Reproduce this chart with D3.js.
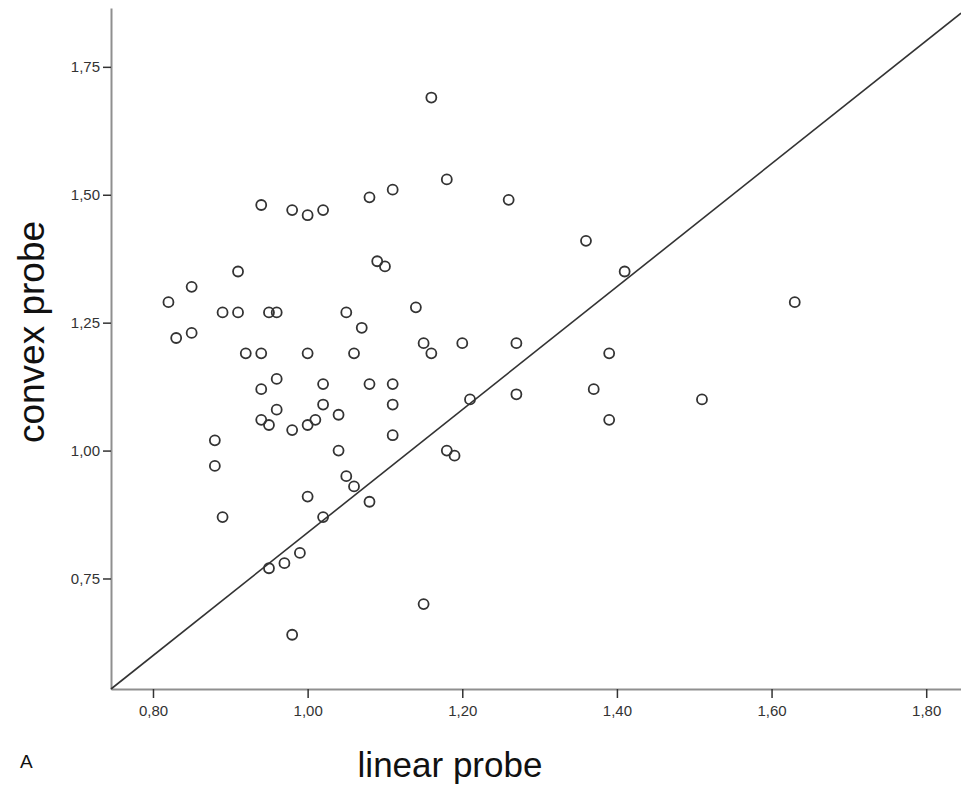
<!DOCTYPE html>
<html>
<head>
<meta charset="utf-8">
<script src="https://cdn.jsdelivr.net/npm/d3@7"></script>
<style>
  body { margin: 0; background: #fff; }
  svg { display: block; font-family: "Liberation Sans", Arial, sans-serif; }
</style>
</head>
<body>
<svg id="chart" width="961" height="790"></svg>
<script>
// values
const linearProbe = [
  0.82, 0.83, 0.85, 0.85, 0.88, 0.88, 0.89, 0.89, 0.91, 0.91,
  0.92, 0.94, 0.94, 0.94, 0.94, 0.95, 0.96, 0.96, 0.96, 0.95,
  0.95, 0.97, 0.98, 0.98, 0.98, 0.99, 1.00, 1.00, 1.00, 1.00,
  1.01, 1.02, 1.02, 1.02, 1.02, 1.04, 1.04, 1.05, 1.05, 1.06,
  1.06, 1.07, 1.08, 1.08, 1.08, 1.09, 1.10, 1.11, 1.11, 1.11,
  1.11, 1.14, 1.15, 1.15, 1.16, 1.16, 1.18, 1.18, 1.19, 1.20,
  1.21, 1.26, 1.27, 1.27, 1.36, 1.37, 1.39, 1.39, 1.41, 1.51,
  1.63
];
const convexProbe = [
  1.29, 1.22, 1.32, 1.23, 1.02, 0.97, 0.87, 1.27, 1.35, 1.27,
  1.19, 1.48, 1.19, 1.12, 1.06, 1.27, 1.27, 1.14, 1.08, 1.05,
  0.77, 0.78, 1.47, 1.04, 0.64, 0.80, 1.46, 1.19, 1.05, 0.91,
  1.06, 1.47, 1.13, 1.09, 0.87, 1.07, 1.00, 1.27, 0.95, 1.19,
  0.93, 1.24, 1.495, 1.13, 0.90, 1.37, 1.36, 1.51, 1.13, 1.09,
  1.03, 1.28, 1.21, 0.70, 1.69, 1.19, 1.53, 1.00, 0.99, 1.21,
  1.10, 1.49, 1.21, 1.11, 1.41, 1.12, 1.19, 1.06, 1.35, 1.10,
  1.29
];
const xTicks = [0.80, 1.00, 1.20, 1.40, 1.60, 1.80];
const yTicks = [0.75, 1.00, 1.25, 1.50, 1.75];
const refLineX = [0.7457, 1.845];
const refLineY = [0.534, 1.855];

const svg = d3.select('#chart');

const x = d3.scaleLinear().domain([0.7457, 1.845]).range([111, 961]);
const y = d3.scaleLinear().domain([0.534, 1.865]).range([689, 8]);

const fmt = d => d3.format('.2f')(d).replace('.', ',');

// x axis
const gx = svg.append('g')
  .attr('transform', 'translate(0,689)')
  .call(d3.axisBottom(x).tickValues(xTicks).tickFormat(fmt).tickSizeInner(9).tickSizeOuter(0).tickPadding(7));
gx.select('.domain').attr('stroke', '#8f8f8f').attr('stroke-width', 2);
gx.selectAll('.tick line').attr('stroke', '#333').attr('stroke-width', 1.5);
gx.selectAll('.tick text').attr('fill', '#333').style('font-size', '15px');

// y axis
const gy = svg.append('g')
  .attr('transform', 'translate(111,0)')
  .call(d3.axisLeft(y).tickValues(yTicks).tickFormat(fmt).tickSizeInner(8).tickSizeOuter(0).tickPadding(3));
gy.select('.domain').attr('stroke', '#8f8f8f').attr('stroke-width', 2);
gy.selectAll('.tick line').attr('stroke', '#333').attr('stroke-width', 1.5);
gy.selectAll('.tick text').attr('fill', '#333').style('font-size', '15px');

// reference line
svg.append('line')
  .attr('x1', x(refLineX[0])).attr('y1', y(refLineY[0]))
  .attr('x2', x(refLineX[1])).attr('y2', y(refLineY[1]))
  .attr('stroke', '#333')
  .attr('stroke-width', 1.6);

// points
svg.append('g').selectAll('circle')
  .data(linearProbe.map((v, i) => [v, convexProbe[i]]))
  .enter().append('circle')
  .attr('cx', d => x(d[0]))
  .attr('cy', d => y(d[1]))
  .attr('r', 5)
  .attr('fill', 'none')
  .attr('stroke', '#333')
  .attr('stroke-width', 1.8);

// titles
svg.append('text')
  .attr('x', 450).attr('y', 777)
  .attr('text-anchor', 'middle')
  .style('font-size', '35px')
  .attr('fill', '#111')
  .text('linear probe');

svg.append('text')
  .attr('transform', 'translate(44,332) rotate(-90)')
  .attr('text-anchor', 'middle')
  .style('font-size', '37px')
  .attr('fill', '#111')
  .text('convex probe');

svg.append('text')
  .attr('x', 20).attr('y', 768)
  .style('font-size', '19px')
  .attr('fill', '#111')
  .text('A');
</script>
</body>
</html>
